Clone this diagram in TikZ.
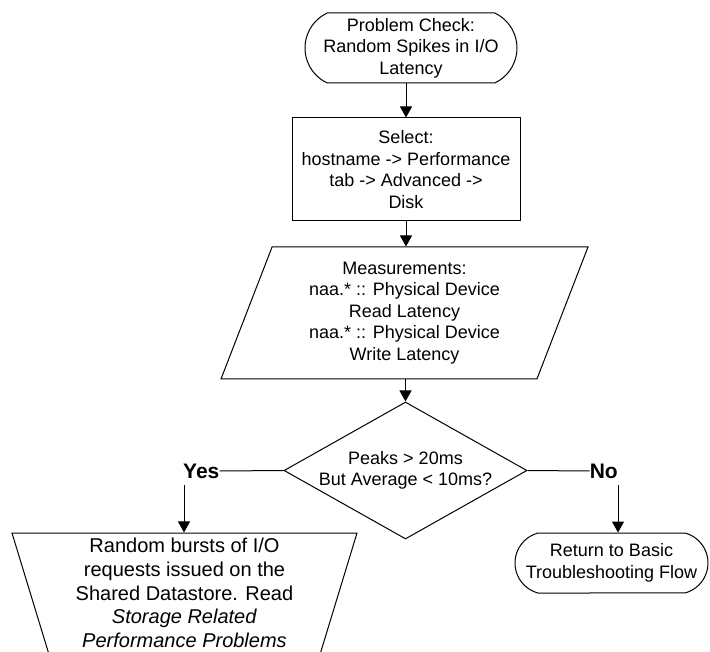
\documentclass[tikz,border=0pt]{standalone}
\usepackage{fontspec}
\setmainfont{Liberation Sans}
\usetikzlibrary{shapes.geometric,shapes.misc,arrows.meta}
\begin{document}
\begin{tikzpicture}[x=1pt,y=-1pt,
  every node/.style={font=\fontsize{18}{21.5}\selectfont, align=center, inner sep=0pt},
  line/.style={draw=black, line width=1pt},
  terminal/.style={rounded rectangle, draw, line width=1pt, rounded rectangle arc length=130},
  process/.style={rectangle, draw, line width=1pt},
  io/.style={trapezium, draw, line width=1pt, trapezium left angle=63.43,
    trapezium right angle=116.57, trapezium stretches body},
  decisionbox/.style={diamond, draw, line width=1pt, aspect=1.77},
  manualop/.style={trapezium, draw, line width=1pt, trapezium angle=71.57,
    shape border rotate=180, trapezium stretches body,
    font=\fontsize{20}{23.75}\selectfont},
  branch/.style={font=\fontsize{21}{24}\selectfont\bfseries},
  arr/.style={line width=1pt, -{Triangle[length=11pt,width=12pt]}}
]
\useasboundingbox (0,0) rectangle (710,652);
\clip (0,0) rectangle (710,652);

% flow steps
\node[terminal, minimum width=212pt, minimum height=70pt] (start) at (411,48)
  {Problem Check:\\Random Spikes in I/O\\Latency};
\node[process, minimum width=228pt, minimum height=103pt] (select) at (406,169.5)
  {Select:\\hostname -> Performance\\tab -> Advanced ->\\Disk};
\node[io, minimum width=367pt, minimum height=132pt] (meas) at (404.5,313)
  {Measurements:\\naa.* :: Physical Device\\Read Latency\\naa.* :: Physical Device\\Write Latency};
\node[decisionbox, minimum width=243pt, minimum height=137pt] (dec) at (405.5,470.5)
  {Peaks > 20ms\\But Average < 10ms?};

% branch labels
\node[branch, anchor=west] (yes) at (183,471) {Yes};
\node[branch, anchor=east] (no) at (618,471) {No};
\coordinate (yesdrop) at (184,485);
\coordinate (nodrop) at (618,485);

% outcomes
\node[terminal, rounded rectangle arc length=150, minimum width=193pt, minimum height=60pt]
  (ret) at (611.5,563) {Return to Basic\\Troubleshooting Flow};
\node[manualop, minimum width=345pt, minimum height=120pt] (burst) at (184.5,593)
  {Random bursts of I/O\\requests issued on the\\Shared Datastore. Read\\\textit{Storage Related}\\\textit{Performance Problems}};

% connectors
\draw[arr] (start.south -| select.north) -- (select.north);
\draw[arr] (select.south) -- (select.south |- meas.north);
\draw[arr] (meas.south -| dec.north) -- (dec.north);
\draw[line] (dec.west) -- (yes.east);
\draw[line] (dec.east) -- (no.west);
\draw[arr] (yesdrop) -- (yesdrop |- burst.north);
\draw[arr] (nodrop) -- (nodrop |- ret.north);
\end{tikzpicture}
\end{document}
